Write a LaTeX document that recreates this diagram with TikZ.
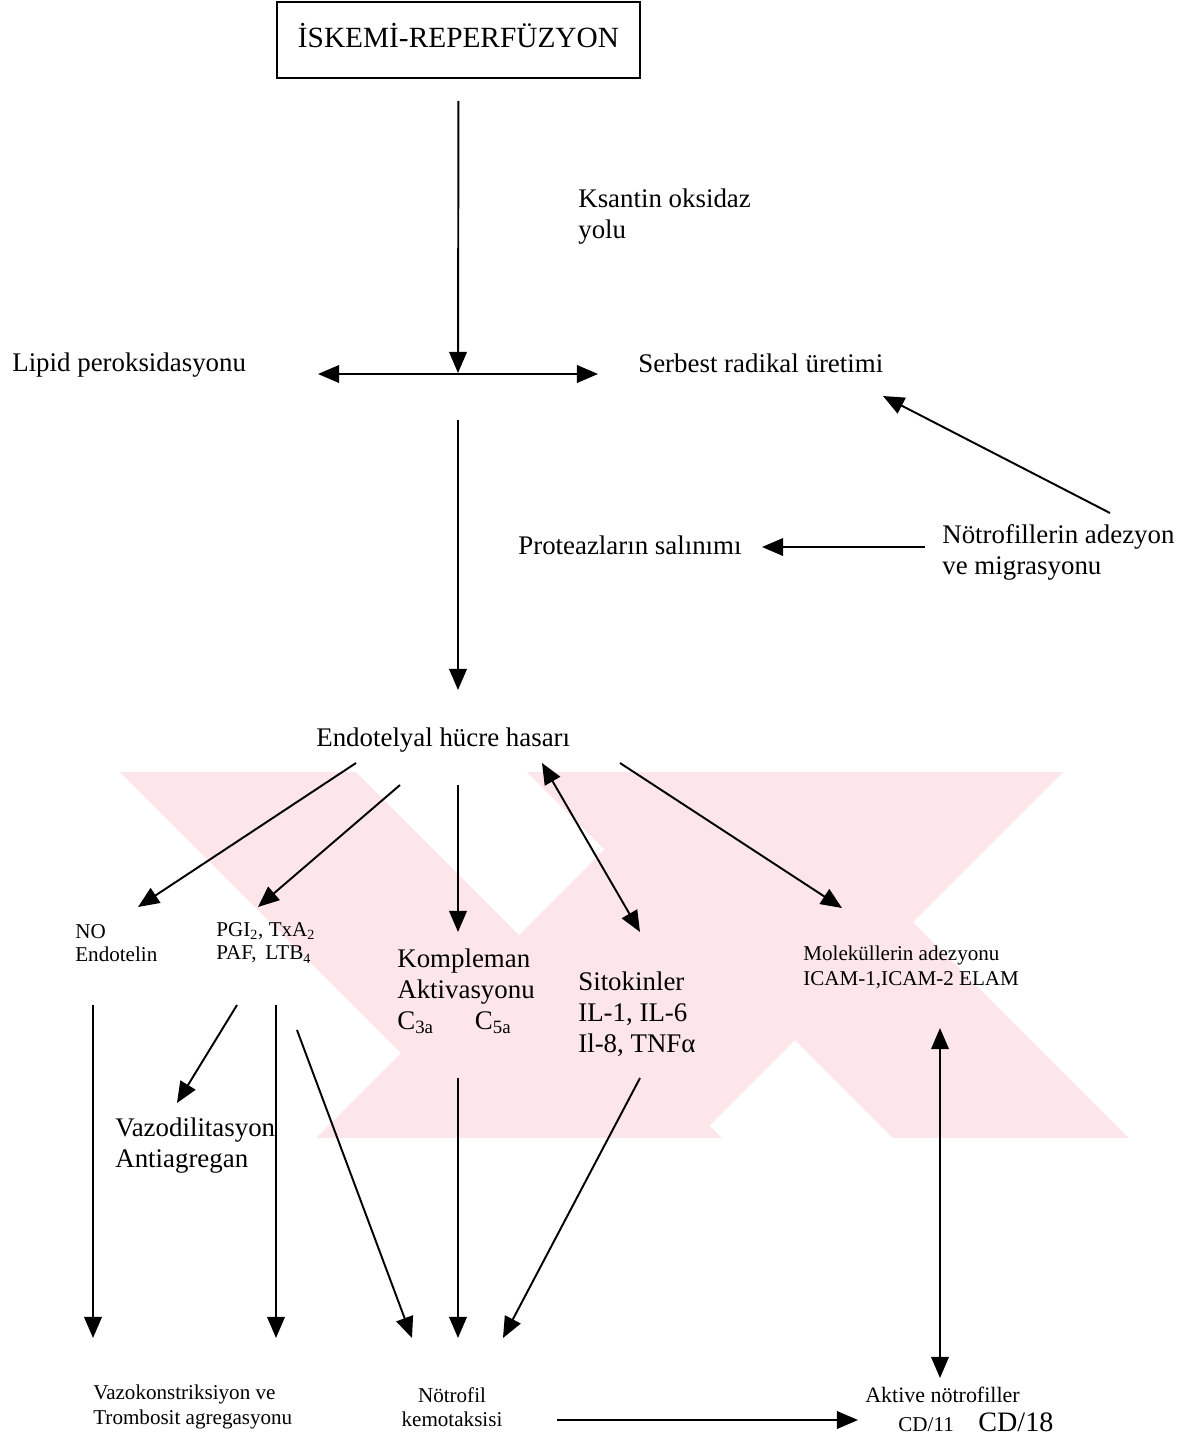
\documentclass[tikz,border=0pt]{standalone}
\usepackage{fontspec}
\setmainfont{Liberation Serif}
\usetikzlibrary{arrows.meta}
\definecolor{wmpink}{RGB}{252,230,234}
\tikzset{
  txt/.style={anchor=west, inner sep=0pt, align=left, font=\fontsize{15.3}{17.6}\selectfont},
  small/.style={txt, font=\fontsize{12}{13.2}\selectfont},
  arr/.style={line width=1.1pt, -{Triangle[length=12pt,width=10pt]}},
  darr/.style={line width=1.1pt, {Triangle[length=12pt,width=10pt]}-{Triangle[length=12pt,width=10pt]}},
}

\begin{document}
\begin{tikzpicture}[x=0.02cm, y=-0.02cm]
    \useasboundingbox (0,0) rectangle (1179,1441);
    % Watermark
    \begin{scope}
        \clip (0,772) rectangle (1179,1137);
        \fill[wmpink] (48,700) -- (284,700) -- (784,1200) -- (548,1200) -- cycle;
        \fill[wmpink] (754,700) -- (990,700) -- (490,1200) -- (254,1200) -- cycle;
        \fill[wmpink] (455,700) -- (691,700) -- (1191,1200) -- (955,1200) -- cycle;
        \fill[wmpink] (899,700) -- (1135,700) -- (635,1200) -- (399,1200) -- cycle;
    \end{scope}
    % Define nodes
    \node[draw, line width=0.9pt, minimum width=7.26cm, minimum height=1.52cm, text depth=5.6pt,
          font=\fontsize{16.7}{20}\selectfont] (iskemi) at (458.5,40) {İSKEMİ-REPERFÜZYON};
    \node[txt] (ksantin) at (578,217) {Ksantin oksidaz\\yolu};
    \node[txt] (lipid) at (12,365) {Lipid peroksidasyonu};
    \node[txt] (serbest) at (638,363) {Serbest radikal üretimi};
    \node[txt] (notadez) at (942,552) {Nötrofillerin adezyon\\ve migrasyonu};
    \node[txt] (proteaz) at (518,545) {Proteazların salınımı};
    \node[txt] (endo) at (316,740) {Endotelyal hücre hasarı};
    \node[small] (noend) at (75,943) {NO\\Endotelin};
    \node[small] (pgi) at (216,943) {PGI\textsubscript{2}, TxA\textsubscript{2}\\PAF,\, LTB\textsubscript{4}};
    \node[txt] (komp) at (397,991) {Kompleman\\Aktivasyonu\\C\textsubscript{3a}\quad\; C\textsubscript{5a}};
    \node[txt] (sito) at (578,1014) {Sitokinler\\IL-1, IL-6\\Il-8, TNFα};
    \node[small, font=\fontsize{12}{14}\selectfont] (molek) at (803,967) {Moleküllerin adezyonu\\ICAM-1,ICAM-2 ELAM};
    \node[txt] (vazod) at (115,1146) {Vazodilitasyon\\Antiagregan};
    \node[small, font=\fontsize{12}{14}\selectfont] (vazok) at (93,1407) {Vazokonstriksiyon ve\\Trombosit agregasyonu};
    \node[small, anchor=center, align=center, font=\fontsize{12}{14}\selectfont] (notkem) at (452,1407) {Nötrofil\\kemotaksisi};
    \node[small, font=\fontsize{12.5}{14}\selectfont] (aktive) at (865,1395) {Aktive nötrofiller};
    \node[inner sep=0pt, anchor=base west] (cd) at (898,1431)
        {{\fontsize{12}{14}\selectfont CD/11}\hspace{14pt}{\fontsize{16}{19}\selectfont CD/18}};
    % Free ends of the connectors
    \coordinate (j) at (458,373);
    \coordinate (hl) at (318,374);
    \coordinate (hr) at (598,374);
    \coordinate (v1) at (458,420);
    \coordinate (v2) at (458,690);
    \coordinate (n1) at (1110,513);
    \coordinate (s1) at (883,396);
    \coordinate (n2) at (925,547);
    \coordinate (p1) at (762,547);
    \coordinate (e1) at (356,763);
    \coordinate (e2) at (400,785);
    \coordinate (e3) at (458,785);
    \coordinate (e4) at (542,763);
    \coordinate (e5) at (620,763);
    \coordinate (a1) at (138,907);
    \coordinate (a2) at (258,907);
    \coordinate (a3) at (458,932);
    \coordinate (a4) at (640,932);
    \coordinate (a5) at (842,908);
    \coordinate (b1) at (93,1005);
    \coordinate (b2) at (237,1005);
    \coordinate (b3) at (276,1005);
    \coordinate (b4) at (297,1030);
    \coordinate (b5) at (458,1078);
    \coordinate (b6) at (640,1078);
    \coordinate (b7) at (940,1028);
    \coordinate (c1) at (93,1338);
    \coordinate (c2) at (177,1103);
    \coordinate (c3) at (276,1338);
    \coordinate (c4) at (412,1338);
    \coordinate (c5) at (458,1338);
    \coordinate (c6) at (503,1338);
    \coordinate (c7) at (940,1378);
    \coordinate (k1) at (557,1420);
    \coordinate (k2) at (858,1420);
    % Connect nodes
    \draw[arr, shorten <=0.44cm] (iskemi.south) -- (j);
    \draw[darr] (hl) -- (hr);
    \foreach \a/\b in {v1/v2, n1/s1, n2/p1, e1/a1, e2/a2, e3/a3, e5/a5,
                       b1/c1, b2/c2, b3/c3, b4/c4, b5/c5, b6/c6, k1/k2}
        \draw[arr] (\a) -- (\b);
    \draw[darr] (e4) -- (a4);
    \draw[darr] (b7) -- (c7);
\end{tikzpicture}
\end{document}
